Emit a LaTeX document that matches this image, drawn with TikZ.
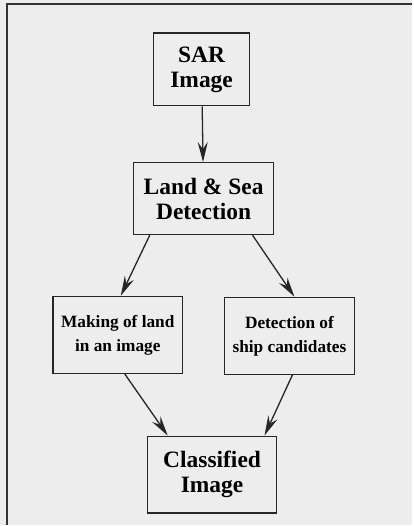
\documentclass[tikz,border=0pt]{standalone}
\usepackage{fontspec}
\setmainfont{Liberation Serif}
\usetikzlibrary{arrows.meta}
\definecolor{scanbg}{HTML}{EDEDED}

\begin{document}
\begin{tikzpicture}
  [x=1pt,y=-1pt,
    every node/.style={draw=black!85,line width=1.3pt,align=center,inner sep=0pt},
    big/.style={font=\bfseries\fontsize{23.5}{25}\selectfont},
    small/.style={font=\bfseries\fontsize{17.3}{24}\selectfont},
    flow/.style={-{Stealth[length=20pt,width=10pt,inset=7pt]},line width=1.3pt,black!85},
  ]
  \fill[scanbg] (0,0) rectangle (413,526);
  \draw[line width=2pt,black!80] (7,526) -- (7,4) -- (413,4);

  \node[big,minimum width=96pt,minimum height=73pt] (sar) at (202,69.5) {SAR\\Image};
  \node[big,minimum width=140pt,minimum height=72pt] (land) at (204,199) {Land \& Sea\\Detection};
  \node[small,minimum width=130pt,minimum height=77pt] (making) at (118,335.5) {Making of land\\in an image};
  \node[small,minimum width=130pt,minimum height=77pt] (ships) at (290,336.5) {Detection of\\ship candidates};
  \node[big,minimum width=129pt,minimum height=77pt] (classified) at (212.5,475.5) {Classified\\Image};

  \draw[flow] (sar) -- (land);
  \draw[flow] ([xshift=-54pt]land.south) -- ([xshift=3pt]making.north);
  \draw[flow] ([xshift=49pt]land.south) -- ([xshift=5pt]ships.north);
  \draw[flow] ([xshift=7pt]making.south) -- ([xshift=-44.5pt]classified.north);
  \draw[flow] ([xshift=3pt]ships.south) -- ([xshift=52.5pt]classified.north);
\end{tikzpicture}
\end{document}
